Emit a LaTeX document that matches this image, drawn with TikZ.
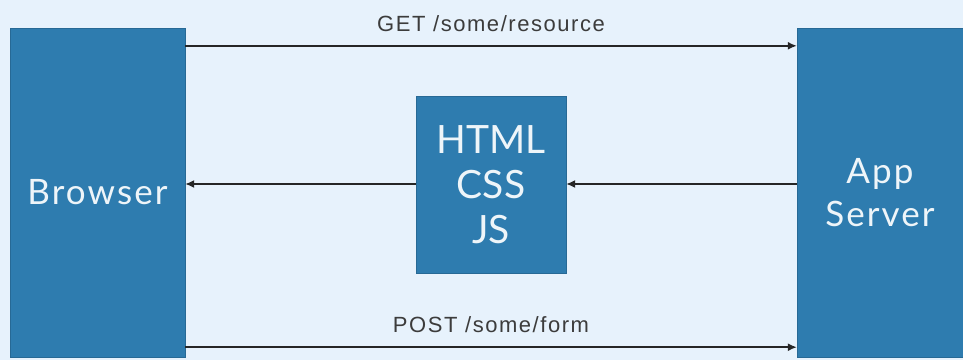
\documentclass[tikz,border=0pt]{standalone}
\usepackage{fontspec}
\setmainfont{Liberation Sans}
\newfontfamily\boxfont[LetterSpace=6]{Lato}
\newfontfamily\assetfont{Lato}
\newfontfamily\msgfont[LetterSpace=7]{Liberation Sans}
\usetikzlibrary{arrows.meta,positioning,calc}
\definecolor{bgblue}{RGB}{231,242,252}
\definecolor{boxblue}{RGB}{46,124,175}
\definecolor{msggray}{RGB}{60,60,60}

\begin{document}
\begin{tikzpicture}[x=1pt,y=1pt,>={Latex[length=9pt,width=8pt]}]
    \tikzset{
        tierbox/.style={draw=boxblue!85!black,fill=boxblue,text=white!92!boxblue,inner sep=0pt,font=\boxfont\fontsize{35}{43}\selectfont,align=center},
        msg/.style={font=\msgfont\fontsize{22}{24}\selectfont,text=msggray,inner sep=0pt,anchor=base},
        link/.style={->,line width=1.5pt,black!85}
    }
    % Background
    \fill[bgblue] (0,0) rectangle (963,360);
    \useasboundingbox (0,0) rectangle (963,360);

    % Boxes
    \node[tierbox,minimum width=175,minimum height=329] (browser) at (97.5,167.5) {Browser};
    \node[tierbox,minimum width=166,minimum height=329] (server) at (880,167.5) {App\\Server};
    \node[tierbox,minimum width=150,minimum height=177,font=\assetfont\fontsize{39}{45}\selectfont] (assets) at (491,175.5) {HTML\\CSS\\JS};

    % Request
    \coordinate (getA) at ($(browser.north east)+(0,-18)$);
    \coordinate (getB) at ($(server.north west)+(0,-18)$);
    \draw[link] (getA) -- node[msg,yshift=14]{GET /some/resource} (getB);

    % Response
    \draw[link] (assets.west |- 0,176) -- (browser.east |- 0,176);
    \draw[link] (server.west |- 0,176) -- (assets.east |- 0,176);

    % Form submit
    \coordinate (postA) at ($(browser.south east)+(0,10)$);
    \coordinate (postB) at ($(server.south west)+(0,10)$);
    \draw[link] (postA) -- node[msg,yshift=15]{POST /some/form} (postB);
\end{tikzpicture}
\end{document}
